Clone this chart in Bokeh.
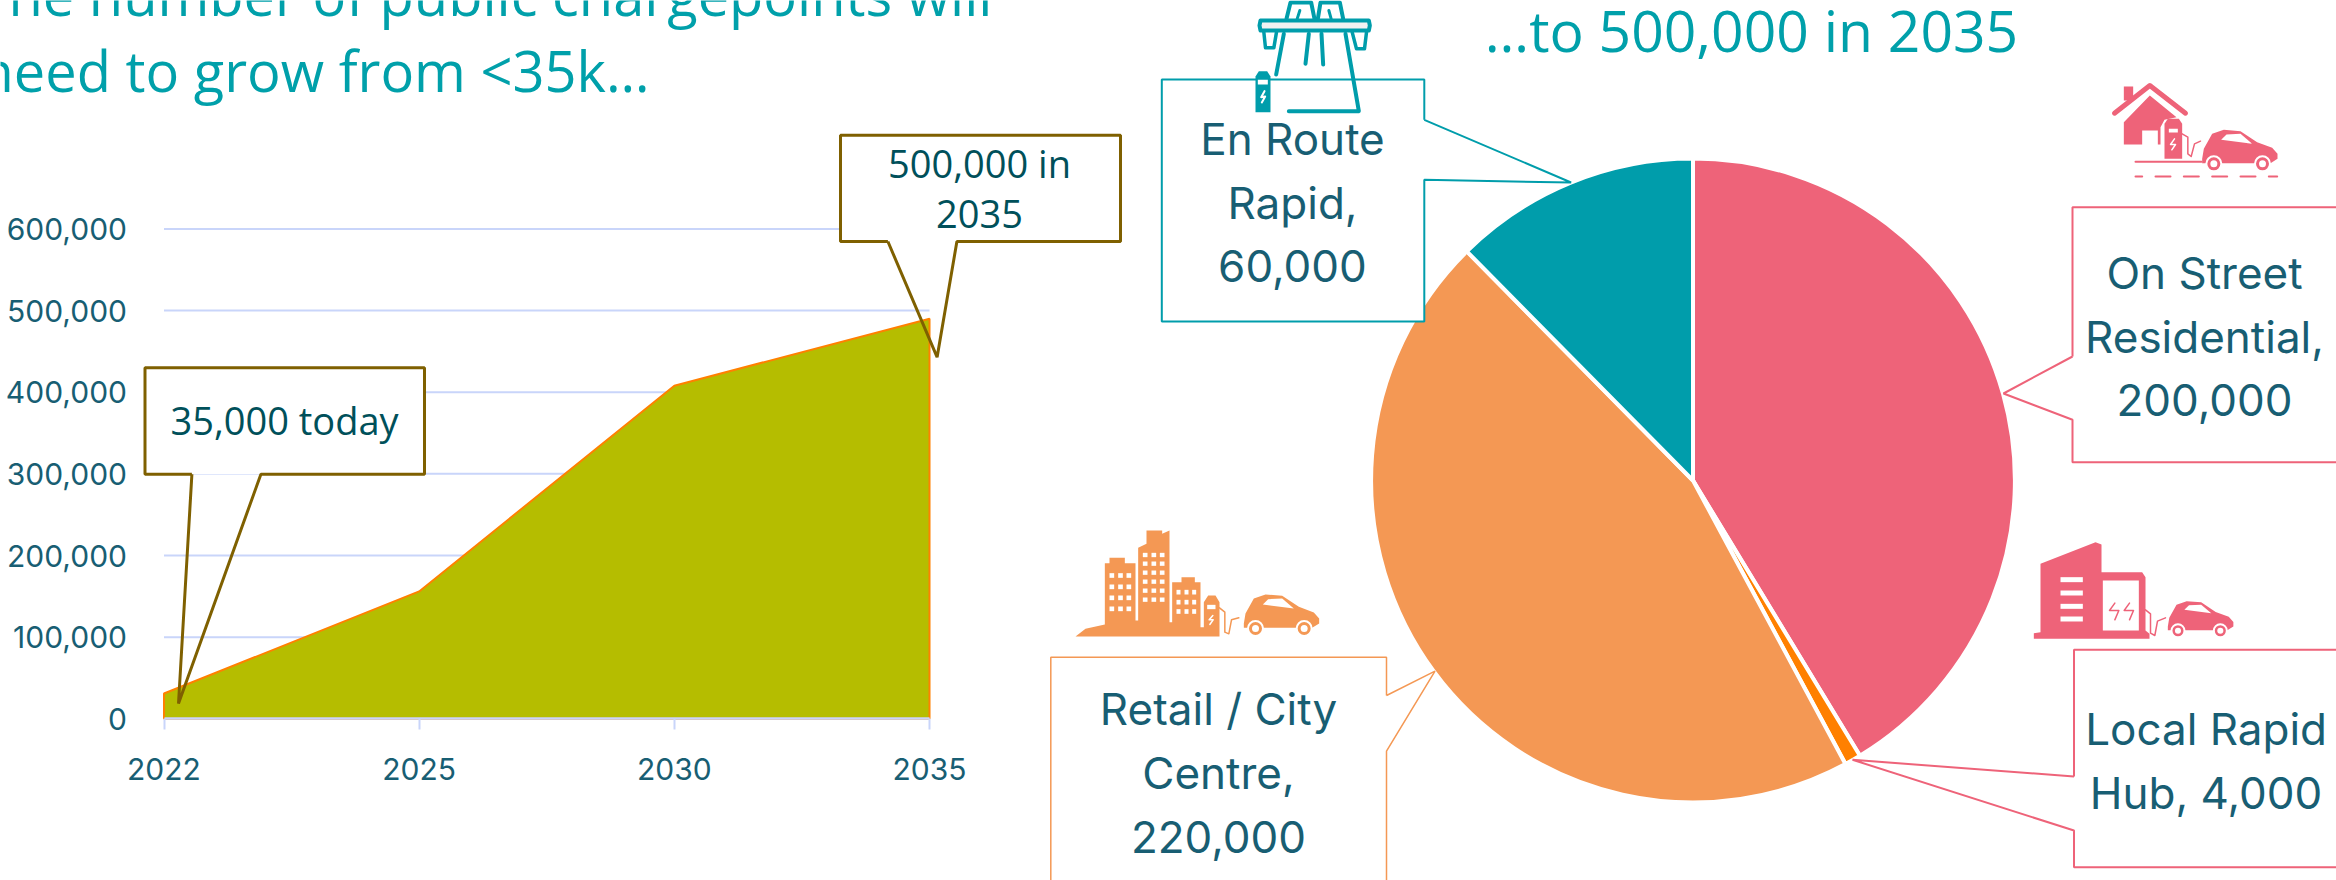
from bokeh.plotting import figure
from bokeh.models import Range1d, LinearAxis, FixedTicker
from bokeh.core.properties import value
from bokeh.embed import file_html
from bokeh.resources import INLINE
import math

# ---- data ----
years = ["2022", "2025", "2030", "2035"]
chargepoints = [31000, 156000, 408000, 490000]
y_ticks = [0, 100000, 200000, 300000, 400000, 500000, 600000]
pie_labels = ["On Street Residential", "Local Rapid Hub", "Retail / City Centre", "En Route Rapid"]
pie_values = [200000, 4000, 220000, 60000]
pie_colors = ["#EE6379", "#FF8000", "#F49854", "#009DAB"]

W, H = 2336, 880
TEAL, PINK, ORANGE, BROWN = "#009DAB", "#EE6379", "#F49854", "#7F6000"
LABEL = "#185E73"
DARK = "#00505A"
TITLE = "#00A0AA"
GRID = "#C9D5FA"
SANS, GEO = "Open Sans", "Inter"

# chart scale: pixel positions of the plot's reference values
cx0, cpx = 163.5, 255.17
cy0, cpy = 718.3, 81.65 / 100000
# pie scale
pcx, pcy, pr = 1692.5, 480.0, 320.0

p = figure(
    width=W, height=H, margin=(0, 0, 0, 0),
    x_range=Range1d(0, W), y_range=Range1d(H, 0),
    x_axis_type=None, y_axis_type=None, toolbar_location=None,
    output_backend="svg", min_border=0, outline_line_color=None,
)
p.grid.visible = False
p.extra_x_ranges = {
    "cx": Range1d(-cx0 / cpx, (W - cx0) / cpx),
    "px": Range1d(-pcx / pr, (W - pcx) / pr),
}
p.extra_y_ranges = {
    "cy": Range1d((cy0 - H) / cpy, cy0 / cpy),
    "py": Range1d((pcy - H) / pr, pcy / pr),
}

# ---- area chart ----
xs = list(range(len(years)))
p.segment(x0=0, x1=xs[-1], y0=y_ticks[1:], y1=y_ticks[1:], line_color=GRID, line_width=2,
          x_range_name="cx", y_range_name="cy")
p.patch([xs[0]] + xs + [xs[-1]], [0] + chargepoints + [0], fill_color="#B5BD00",
        line_color="#FF8000", line_width=2, x_range_name="cx", y_range_name="cy")

xax = LinearAxis(x_range_name="cx", y_range_name="cy", fixed_location=0, bounds=(0, xs[-1]),
                 ticker=FixedTicker(ticks=xs),
                 major_label_overrides={i: y for i, y in enumerate(years)})
xax.axis_line_color = GRID
xax.axis_line_width = 2.5
xax.major_tick_line_color = GRID
xax.major_tick_line_width = 2
xax.major_tick_in = 0
xax.major_tick_out = 11
xax.minor_tick_line_color = None
xax.major_label_standoff = 28
xax.major_label_text_font = GEO
xax.major_label_text_font_size = "30px"
xax.major_label_text_color = LABEL
p.add_layout(xax, "below")

yax = LinearAxis(x_range_name="cx", y_range_name="cy", fixed_location=0,
                 ticker=FixedTicker(ticks=y_ticks),
                 major_label_overrides={t: f"{t:,}" for t in y_ticks})
yax.axis_line_color = None
yax.major_tick_line_color = None
yax.minor_tick_line_color = None
yax.major_label_standoff = 31
yax.major_label_text_font = GEO
yax.major_label_text_font_size = "30px"
yax.major_label_text_color = LABEL
p.add_layout(yax, "left")

# ---- pie ----
total = sum(pie_values)
angle = math.pi / 2
for val, col in zip(pie_values, pie_colors):
    next_angle = angle - 2 * math.pi * val / total
    p.wedge(x=[0], y=[0], radius=1.006, start_angle=next_angle, end_angle=angle, direction="anticlock",
            fill_color=col, line_color="white", line_width=4, x_range_name="px", y_range_name="py")
    angle = next_angle


# ---- helpers in pixel space ----
def txt(x, y, s, size, color, font, align="center"):
    lift = 0.38 if font == SANS else 0.32
    p.text(x=[x], y=[y - lift * size], text=[s], text_font=value(font), text_font_size=f"{size}px",
           text_color=color, text_align=align, text_baseline="alphabetic")


def callout(x0, y0, x1, y1, outline, color, width):
    p.quad(left=[x0], right=[x1], top=[y0], bottom=[y1], fill_color="white", line_color=None)
    p.line([q[0] for q in outline], [q[1] for q in outline], line_color=color, line_width=width)


def shape(o, pts, color):
    p.patch([o[0] + a / 3 for a, b in pts], [o[1] + b / 3 for a, b in pts], fill_color=color, line_color=None)


def stroke(o, pts, color, width):
    p.line([o[0] + a / 3 for a, b in pts], [o[1] + b / 3 for a, b in pts], line_color=color,
           line_width=width, line_cap="round", line_join="round")


def car(o, ox, oy, s, color):
    body = [(0, 87), (5, 57), (30, 12), (65, 0), (115, 4), (165, 37), (210, 54), (226, 72), (226, 87),
            (205, 100), (0, 100)]
    win = [(57, 30), (73, 14), (115, 12), (150, 42)]
    shape(o, [(ox + a * s, oy + b * s) for a, b in body], color)
    shape(o, [(ox + a * s, oy + b * s) for a, b in win], "white")
    for wx in (35, 181):
        p.scatter([o[0] + (ox + wx * s) / 3], [o[1] + (oy + 102 * s) / 3], size=15 * s, marker="circle",
                  fill_color=color, line_color="white", line_width=2)
        p.scatter([o[0] + (ox + wx * s) / 3], [o[1] + (oy + 102 * s) / 3], size=7 * s, marker="circle",
                  fill_color="white", line_color=None)


# ---- callouts ----
callout(144.5, 367.3, 424, 473.7,
        [(191.4, 473.7), (144.5, 473.7), (144.5, 367.3), (424, 367.3), (424, 473.7), (260.4, 473.7),
         (178, 703), (191.4, 473.7)], BROWN, 3)
callout(840, 134.7, 1120, 241,
        [(887.4, 241), (840, 241), (840, 134.7), (1120, 134.7), (1120, 241), (956.4, 241),
         (936.6, 356.7), (887.4, 241)], BROWN, 3)
callout(1161.3, 79, 1423.8, 321,
        [(1423.8, 119.3), (1423.8, 79), (1161.3, 79), (1161.3, 321), (1423.8, 321), (1423.8, 179.3),
         (1570.6, 182), (1423.8, 119.3)], TEAL, 2)
callout(2072, 206.7, 2340, 461.7,
        [(2072, 356), (2072, 206.7), (2340, 206.7), (2340, 461.7), (2072, 461.7), (2072, 419.3),
         (2003, 393), (2072, 356)], PINK, 2)
callout(2073.5, 649.3, 2340, 866.7,
        [(2073.5, 776), (2073.5, 649.3), (2340, 649.3), (2340, 866.7), (2073.5, 866.7), (2073.5, 830),
         (1852, 759.3), (2073.5, 776)], PINK, 2)
callout(1050.3, 656.7, 1386, 890,
        [(1386, 695), (1386, 656.7), (1050.3, 656.7), (1050.3, 890), (1386, 890), (1386, 750.7),
         (1434.5, 670.7), (1386, 695)], ORANGE, 1.5)

# ---- icons ----
o = (1240, 0)
stroke(o, [(138, 55), (150, 6), (212, 6), (222, 55)], TEAL, 4)
stroke(o, [(232, 55), (240, 6), (298, 6), (308, 55)], TEAL, 4)
stroke(o, [(170, 55), (178, 30)], TEAL, 3)
stroke(o, [(272, 55), (265, 30)], TEAL, 3)
stroke(o, [(70, 95), (75, 142), (100, 142), (108, 95)], TEAL, 3.5)
stroke(o, [(335, 95), (348, 145), (372, 145), (378, 95)], TEAL, 3.5)
shape(o, [(60, 60), (385, 60), (388, 75), (385, 90), (60, 90), (57, 75)], "#F2F2F2")
stroke(o, [(60, 60), (385, 60), (388, 75), (385, 90), (60, 90), (57, 75), (60, 60)], TEAL, 4)
stroke(o, [(130, 100), (107, 222)], TEAL, 4)
stroke(o, [(205, 100), (195, 190)], TEAL, 4)
stroke(o, [(243, 100), (248, 192)], TEAL, 4)
stroke(o, [(315, 100), (355, 332), (145, 332)], TEAL, 4)
shape(o, [(45, 335), (45, 228), (55, 212), (80, 212), (90, 228), (90, 335)], TEAL)
shape(o, [(52, 238), (82, 238), (82, 252), (52, 252)], "white")
stroke(o, [(72, 272), (62, 290), (74, 288), (64, 306)], "white", 2)

o = (2100, 70)
shape(o, [(70, 48), (98, 48), (98, 90), (70, 90)], PINK)
stroke(o, [(42, 128), (148, 45), (255, 128)], PINK, 5)
shape(o, [(70, 155), (148, 75), (228, 140), (192, 148), (180, 170), (180, 222), (172, 222), (172, 180),
          (125, 180), (125, 222), (70, 222)], PINK)
shape(o, [(192, 265), (192, 160), (202, 145), (235, 145), (245, 160), (245, 265)], PINK)
shape(o, [(205, 175), (232, 175), (232, 186), (205, 186)], "white")
stroke(o, [(222, 205), (210, 222), (225, 222), (214, 238)], "white", 1.5)
stroke(o, [(245, 190), (262, 200), (262, 250), (272, 258), (282, 220), (300, 212)], PINK, 1.5)
stroke(o, [(105, 274), (303, 274)], PINK, 2)
for dx0, dx1 in [(105, 125), (165, 210), (250, 295), (335, 380), (420, 465), (505, 530)]:
    stroke(o, [(dx0, 318), (dx1, 318)], PINK, 2)
car(o, 305, 178, 1.0, PINK)

o = (1065, 520)
shape(o, [(30, 348), (60, 325), (118, 312), (118, 128), (132, 128), (132, 112), (178, 112), (178, 128),
          (210, 128), (210, 300), (218, 300), (218, 82), (243, 70), (243, 30), (290, 30), (290, 40), (312, 30),
          (312, 305), (320, 305), (320, 185), (348, 185), (348, 170), (388, 170), (388, 185), (405, 185),
          (405, 320), (415, 320), (415, 245), (428, 225), (450, 225), (462, 245), (462, 348)], ORANGE)
for cols, rows, cw, ch, w in [((132, 158, 183), (158, 192, 225, 258), 14, 14, 14),
                              ((232, 258, 283), (97, 123, 150, 177, 204, 231), 14, 13, 14),
                              ((333, 357, 380), (208, 238, 266), 12, 14, 12)]:
    for cx in cols:
        for cy in rows:
            shape(o, [(cx, cy), (cx + cw, cy), (cx + cw, cy + ch), (cx, cy + ch)], "white")
shape(o, [(425, 253), (450, 253), (450, 266), (425, 266)], "white")
stroke(o, [(442, 285), (431, 298), (443, 298), (433, 312)], "white", 1.5)
stroke(o, [(462, 262), (478, 275), (478, 335), (490, 340), (498, 298), (520, 292)], ORANGE, 1.5)
car(o, 535, 222, 1.0, ORANGE)

o = (2025, 530)
shape(o, [(45, 100), (210, 35), (228, 42), (228, 125), (350, 125), (360, 140), (360, 300), (372, 310),
          (372, 325), (25, 325), (25, 308), (45, 305)], PINK)
shape(o, [(232, 150), (340, 150), (340, 300), (232, 300)], "white")
for sy in (140, 180, 220, 258):
    shape(o, [(105, sy), (172, sy), (172, sy + 15), (105, sy + 15)], "white")
stroke(o, [(268, 218), (252, 240), (280, 240), (268, 268)], PINK, 1.5)
stroke(o, [(312, 218), (296, 240), (324, 240), (312, 268)], PINK, 1.5)
stroke(o, [(360, 238), (375, 250), (375, 308), (388, 315), (396, 272), (420, 262)], PINK, 1.5)
car(o, 427, 212, 0.87, PINK)

# ---- texts ----
txt(992, 15, "The number of public chargepoints will", 56, TITLE, SANS, "right")
txt(649, 90.7, "need to grow from <35k…", 56, TITLE, SANS, "right")
txt(1751, 50.7, "…to 500,000 in 2035", 57, TITLE, SANS)
txt(284, 434, "35,000 today", 38, DARK, SANS)
txt(979, 176.7, "500,000 in", 38, DARK, SANS)
txt(979, 227.7, "2035", 38, DARK, SANS)
for x, lines in [(1292, [(152.7, "En Route"), (216.7, "Rapid,"), (280, "60,000")]),
                 (2204, [(286.7, "On Street"), (350.7, "Residential,"), (414, "200,000")]),
                 (2205.6, [(742.7, "Local Rapid"), (806.7, "Hub, 4,000")]),
                 (1218, [(722.7, "Retail / City"), (786.7, "Centre,"), (850.7, "220,000")])]:
    for y, s in lines:
        txt(x, y, s, 44, LABEL, GEO)

open("out.html", "w").write(file_html(p, INLINE))
